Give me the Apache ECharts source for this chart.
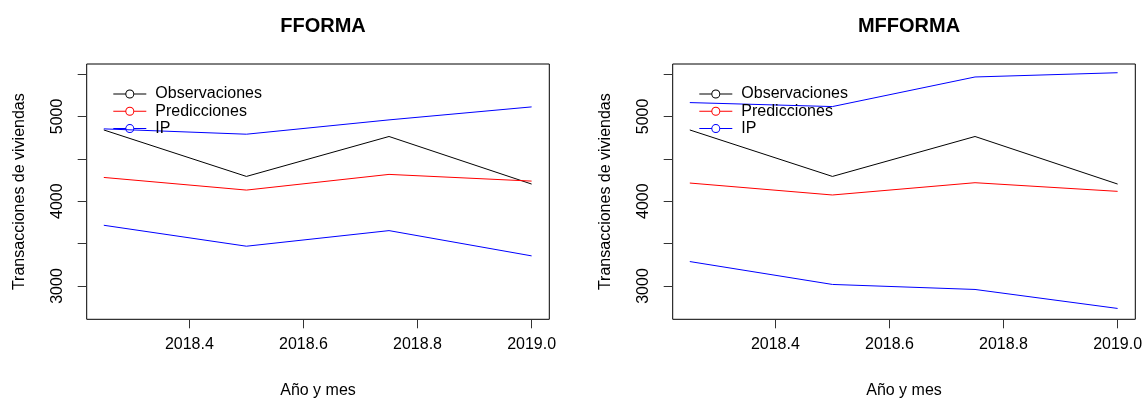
<!DOCTYPE html>
<html>
<head>
<meta charset="utf-8">
<script src="https://cdn.jsdelivr.net/npm/echarts@6/dist/echarts.min.js"></script>
<style>
  html, body { margin: 0; padding: 0; background: #fff; }
  #chart { width: 1144px; height: 399px; }
</style>
</head>
<body>
<div id="chart"></div>
<script>
// Quarterly periods (decimal year)
const periodos = [2018.25, 2018.5, 2018.75, 2019.0];

// Observed housing transactions
const observaciones = [4840, 4292, 4763, 4202];

// FFORMA forecasts and prediction interval
const ffPred = [4280, 4131, 4316, 4237];
const ffIPSup = [4853, 4790, 4959, 5112];
const ffIPInf = [3716, 3469, 3653, 3355];

// MFFORMA forecasts and prediction interval
const mfPred = [4214, 4073, 4218, 4116];
const mfIPSup = [5163, 5116, 5465, 5515];
const mfIPInf = [3288, 3018, 2959, 2735];

// Axis ticks and labels
const xTicks = [2018.4, 2018.6, 2018.8, 2019.0];
const yTicks = [3000, 3500, 4000, 4500, 5000, 5500];
const yLabels = [3000, 4000, 5000];

const titulos = ['FFORMA', 'MFFORMA'];
const leyenda = ['Observaciones', 'Predicciones', 'IP'];

const FONT = 'Liberation Sans, Arial, sans-serif';
const grids = [
  { left: 86.7, top: 64, width: 462.6, height: 255.3 },
  { left: 672.7, top: 64, width: 462.6, height: 255.3 }
];

// Legend key: thin line segments with an open circle in the middle (33 x 9 box)
const ICONO = 'path://M0,4 L12.3,4 L12.3,5 L0,5 Z ' +
  'M20.7,4 L33,4 L33,5 L20.7,5 Z ' +
  'M12,4.5 A4.5,4.5 0 1,1 21,4.5 A4.5,4.5 0 1,1 12,4.5 Z ' +
  'M13,4.5 A3.5,3.5 0 1,0 20,4.5 A3.5,3.5 0 1,0 13,4.5 Z ' +
  'M0,0 L0.01,0 Z M33,9 L32.99,9 Z';

function pares(xs, ys) { return xs.map((x, i) => [x, ys[i]]); }

function serie(name, color, values, idx) {
  return {
    type: 'line', name: name,
    xAxisIndex: idx, yAxisIndex: idx,
    data: pares(periodos, values),
    showSymbol: false, symbol: 'emptyCircle', symbolSize: 8,
    color: color,
    lineStyle: { width: 1, color: color },
    itemStyle: { color: color },
    silent: true, animation: false
  };
}

const paneles = [
  { pred: ffPred, sup: ffIPSup, inf: ffIPInf },
  { pred: mfPred, sup: mfIPSup, inf: mfIPInf }
];

const series = [];
paneles.forEach((p, i) => {
  series.push(serie('Observaciones', '#000000', observaciones, i));
  series.push(serie('Predicciones', '#ff0000', p.pred, i));
  series.push(serie('IP', '#0000ff', p.sup, i));
  series.push(serie('IP', '#0000ff', p.inf, i));
});

const option = {
  backgroundColor: '#ffffff',
  animation: false,
  title: grids.map((g, i) => ({
    text: titulos[i],
    left: g.left + g.width / 2,
    textAlign: 'center',
    top: 11,
    textStyle: { fontFamily: FONT, fontSize: 20, fontWeight: 'bold', color: '#000' }
  })),
  legend: grids.map((g, i) => ({
    data: leyenda,
    orient: 'vertical',
    left: g.left + 21.6,
    top: 81,
    icon: ICONO,
    itemWidth: 33,
    itemHeight: 9,
    itemGap: 1.3,
    itemStyle: { borderWidth: 0 },
    selectedMode: false,
    textStyle: { fontFamily: FONT, fontSize: 16, color: '#000', lineHeight: 16, padding: [0, 0, 0, 4] }
  })),
  grid: grids.map(g => Object.assign({
    show: true, borderColor: '#000', borderWidth: 1, backgroundColor: 'transparent',
    containLabel: false, outerBoundsMode: 'none'
  }, g)),
  xAxis: grids.map((g, i) => ({
    type: 'value', gridIndex: i,
    min: 2018.22, max: 2019.031,
    name: 'Año y mes', nameLocation: 'middle', nameGap: 63,
    nameTextStyle: { fontFamily: FONT, fontSize: 16, color: '#000' },
    axisLine: { show: false },
    splitLine: { show: false },
    axisTick: { show: true, length: 9, customValues: xTicks, lineStyle: { color: '#333' } },
    axisLabel: {
      customValues: xTicks, margin: 17,
      formatter: v => v.toFixed(1),
      fontFamily: FONT, fontSize: 16, color: '#000'
    }
  })),
  yAxis: grids.map((g, i) => ({
    type: 'value', gridIndex: i,
    min: 2607, max: 5618,
    name: 'Transacciones de viviendas', nameLocation: 'middle', nameGap: 59, nameRotate: 90,
    nameTextStyle: { fontFamily: FONT, fontSize: 16, color: '#000' },
    axisLine: { show: false },
    splitLine: { show: false },
    axisTick: { show: true, length: 9, customValues: yTicks, lineStyle: { color: '#333' } },
    axisLabel: {
      customValues: yLabels, rotate: 90, margin: 21,
      formatter: v => String(v),
      fontFamily: FONT, fontSize: 16, color: '#000'
    }
  })),
  series: series
};

const chart = echarts.init(document.getElementById('chart'), null, { renderer: 'canvas' });
chart.setOption(option);
</script>
</body>
</html>
